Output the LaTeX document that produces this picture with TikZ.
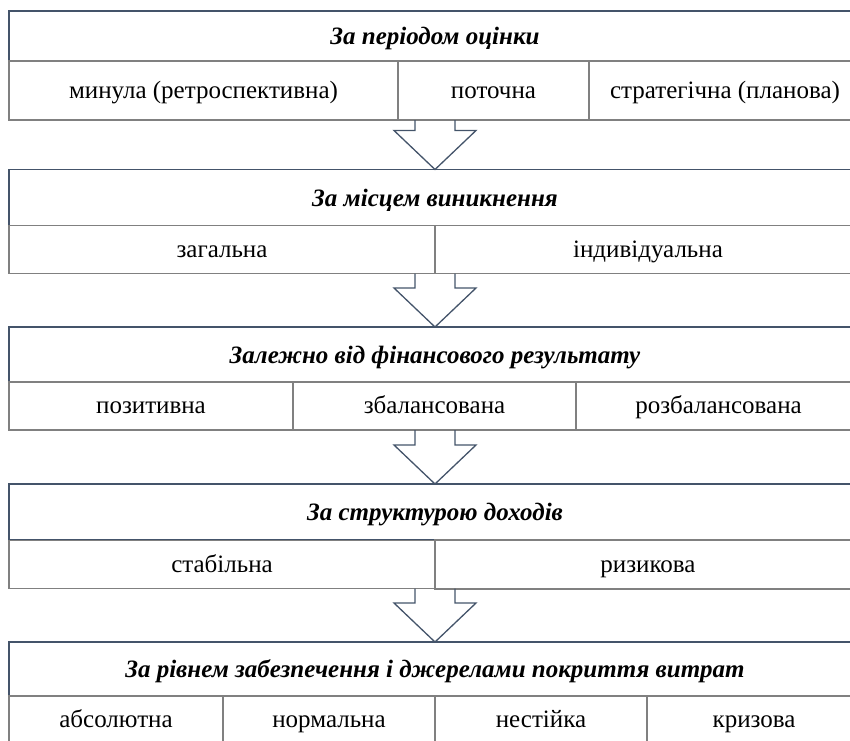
\documentclass[tikz,border=0pt]{standalone}
\usepackage{fontspec}
\setmainfont{Liberation Serif}
\usetikzlibrary{calc}

\definecolor{framegray}{RGB}{128,128,128}
\definecolor{frameblue}{RGB}{68,84,106}

\tikzset{
  head/.style={draw=frameblue, line width=1.5pt, inner sep=0pt, outer sep=0pt,
    text height=23.5pt, text depth=6pt,
    font=\fontsize{25}{29}\selectfont\bfseries\itshape},
  cell/.style={draw=framegray, line width=1.5pt, inner sep=0pt, outer sep=0pt,
    text height=21.5pt, text depth=6pt,
    font=\fontsize{25}{29}\selectfont},
  blockarrow/.style={draw=frameblue, line width=1.3pt}
}

\newcommand{\flowarrow}[2]{%
  \draw[blockarrow] ($(#1)+(-20,0)$) -- ($(#2)+(-20,-39)$) -- ($(#2)+(-41,-39)$)
    -- (#2) -- ($(#2)+(41,-39)$) -- ($(#2)+(20,-39)$) -- ($(#1)+(20,0)$);}

\begin{document}
\begin{tikzpicture}[x=1pt, y=-1pt]
    \clip (0,0) rectangle (850,740);

    \begin{scope}
      \node[head, minimum width=852, minimum height=50] (period) at (435,36) {За періодом оцінки};
      \node[cell, minimum width=389, minimum height=59] (past) at (203.5,90.5) {минула (ретроспективна)};
      \node[cell, minimum width=191, minimum height=59] (current) at (493.5,90.5) {поточна};
      \node[cell, minimum width=272, minimum height=59] (strategic) at (725,90.5) {стратегічна (планова)};
    \end{scope}

    \begin{scope}
      \node[head, minimum width=852, minimum height=56] (place) at (435,197.5) {За місцем виникнення};
      \node[cell, minimum width=426, minimum height=48] (general) at (222,249.5) {загальна};
      \node[cell, minimum width=426, minimum height=48] (individual) at (648,249.5) {індивідуальна};
    \end{scope}

    \begin{scope}
      \node[head, minimum width=852, minimum height=55] (result) at (435,354.5) {Залежно від фінансового результату};
      \node[cell, minimum width=284, minimum height=48] (positive) at (151,406) {позитивна};
      \node[cell, minimum width=283, minimum height=48] (balanced) at (434.5,406) {збалансована};
      \node[cell, minimum width=285, minimum height=48] (unbalanced) at (718.5,406) {розбалансована};
    \end{scope}

    \begin{scope}
      \node[head, minimum width=852, minimum height=56] (income) at (435,512) {За структурою доходів};
      \node[cell, minimum width=426, minimum height=48] (stable) at (222,564.5) {стабільна};
      \node[cell, minimum width=426, minimum height=49] (risky) at (648,564.5) {ризикова};
    \end{scope}

    \begin{scope}
      \node[head, minimum width=852, minimum height=54] (cover) at (435,669) {За рівнем забезпечення і джерелами покриття витрат};
      \node[cell, minimum width=214, minimum height=48] (absolute) at (116,720) {абсолютна};
      \node[cell, minimum width=212, minimum height=48] (normal) at (329,720) {нормальна};
      \node[cell, minimum width=212, minimum height=48] (unstable) at (541,720) {нестійка};
      \node[cell, minimum width=214, minimum height=48] (crisis) at (754,720) {кризова};
    \end{scope}

    \coordinate (out1) at (period |- past.south);
    \coordinate (out2) at (place |- general.south);
    \coordinate (out3) at (result |- positive.south);
    \coordinate (out4) at (income |- stable.south);

    \flowarrow{out1}{place.north}
    \flowarrow{out2}{result.north}
    \flowarrow{out3}{income.north}
    \flowarrow{out4}{cover.north}
  \end{tikzpicture}
\end{document}
